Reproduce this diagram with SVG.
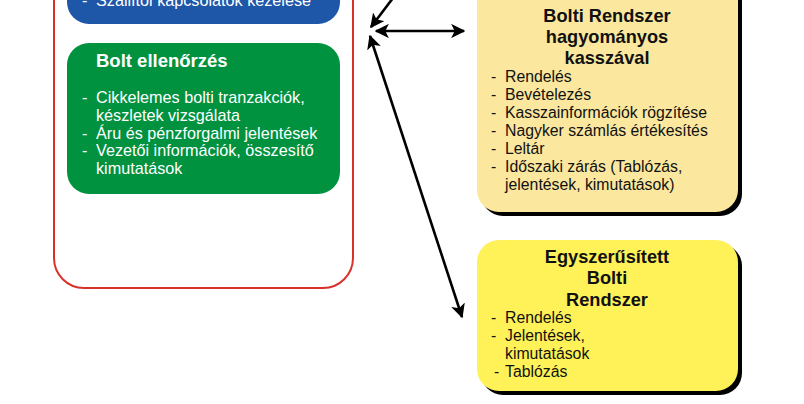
<svg xmlns="http://www.w3.org/2000/svg" width="804" height="404" viewBox="0 0 804 404">
<defs>
<style>
.wt{font-family:"Liberation Sans",Arial,sans-serif;font-size:16.2px;fill:#fff}
.wtb{font-family:"Liberation Sans",Arial,sans-serif;font-size:18.5px;font-weight:bold;fill:#fff}
.bk{font-family:"Liberation Sans",Arial,sans-serif;font-size:15.8px;fill:#111}
.bkb{font-family:"Liberation Sans",Arial,sans-serif;font-size:18.2px;font-weight:bold;fill:#111;text-anchor:middle}
.conn{stroke:#000;stroke-width:2.6;fill:none;marker-end:url(#ah)}
.dbl{marker-start:url(#ah)}
.shadow{fill:#000}
</style>
<marker id="ah" viewBox="0 0 10 10" refX="9" refY="5" markerWidth="5.5" markerHeight="5.5" orient="auto-start-reverse" markerUnits="strokeWidth">
<path d="M0,0 L10,5 L0,10 L2.5,5 z" fill="#000"/>
</marker>
</defs>
<rect width="804" height="404" fill="#fff"/>

<g id="container">
<rect x="54" y="-40" width="299" height="328" rx="30" fill="#fff" stroke="#D8312B" stroke-width="2"/>
</g>

<g id="supplier">
<rect x="67" y="-60" width="273" height="84" rx="22" fill="#1E56A8"/>
<text class="wt" x="82" y="6">-</text>
<text class="wt" x="96" y="6">Szállítói kapcsolatok kezelése</text>
</g>

<g id="control">
<rect x="67" y="43" width="273" height="151" rx="22" fill="#00923F"/>
<text class="wtb" x="96" y="67">Bolt ellenőrzés</text>
<text class="wt" x="82" y="103">-</text>
<text class="wt" x="96" y="103">Cikkelemes bolti tranzakciók,</text>
<text class="wt" x="96" y="121">készletek vizsgálata</text>
<text class="wt" x="82" y="139">-</text>
<text class="wt" x="96" y="139">Áru és pénzforgalmi jelentések</text>
<text class="wt" x="82" y="156">-</text>
<text class="wt" x="96" y="156">Vezetői információk, összesítő</text>
<text class="wt" x="96" y="174">kimutatások</text>
</g>

<g id="traditional">
<rect class="shadow" x="481" y="-36" width="261" height="252" rx="22"/>
<rect x="477" y="-40" width="261" height="252" rx="22" fill="#FBE79E"/>
<text class="bkb" x="607" y="22">Bolti Rendszer</text>
<text class="bkb" x="607" y="43">hagyományos</text>
<text class="bkb" x="607" y="64">kasszával</text>
<text class="bk" x="491" y="82">-</text>
<text class="bk" x="505" y="82">Rendelés</text>
<text class="bk" x="491" y="100">-</text>
<text class="bk" x="505" y="100">Bevételezés</text>
<text class="bk" x="491" y="118">-</text>
<text class="bk" x="505" y="118">Kasszainformációk rögzítése</text>
<text class="bk" x="491" y="136">-</text>
<text class="bk" x="505" y="136">Nagyker számlás értékesítés</text>
<text class="bk" x="491" y="154">-</text>
<text class="bk" x="505" y="154">Leltár</text>
<text class="bk" x="491" y="172">-</text>
<text class="bk" x="505" y="172">Időszaki zárás (Tablózás,</text>
<text class="bk" x="505" y="190">jelentések, kimutatások)</text>
</g>

<g id="simplified">
<rect class="shadow" x="481" y="244" width="261" height="151" rx="22"/>
<rect x="477" y="240" width="261" height="151" rx="22" fill="#FFF158"/>
<text class="bkb" x="607" y="263">Egyszerűsített</text>
<text class="bkb" x="607" y="284">Bolti</text>
<text class="bkb" x="607" y="306">Rendszer</text>
<text class="bk" x="491" y="323">-</text>
<text class="bk" x="505" y="323">Rendelés</text>
<text class="bk" x="491" y="341">-</text>
<text class="bk" x="505" y="341">Jelentések,</text>
<text class="bk" x="505" y="359">kimutatások</text>
<text class="bk" x="494" y="377">-</text>
<text class="bk" x="505" y="377">Tablózás</text>
</g>

<g id="connectors">
<line class="conn" x1="393" y1="-2" x2="371" y2="27"/>
<line class="conn dbl" x1="376" y1="31" x2="464" y2="31"/>
<line class="conn dbl" x1="370" y1="36" x2="462" y2="317"/>
</g>
</svg>
